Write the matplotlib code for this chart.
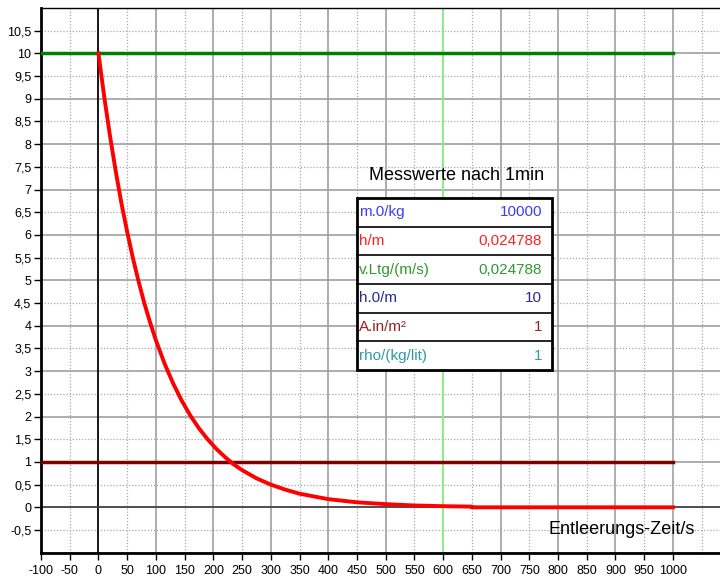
import numpy as np
import matplotlib.pyplot as plt
from matplotlib.ticker import FuncFormatter

plt.rcParams['font.family'] = ['Liberation Sans', 'DejaVu Sans']

# --- data ---
t_curve = [0, 10, 20, 30, 40, 50, 60, 70, 80, 90, 100, 115, 130, 145, 160, 175, 190,
           205, 220, 235, 250, 275, 300, 325, 350, 375, 400, 450, 500, 550, 600, 650,
           650, 1000]
h_curve = [10.0, 9.05, 8.19, 7.41, 6.70, 6.07, 5.49, 4.97, 4.49, 4.07, 3.68, 3.17,
           2.73, 2.35, 2.02, 1.74, 1.50, 1.29, 1.11, 0.95, 0.82, 0.64, 0.50, 0.39,
           0.30, 0.24, 0.18, 0.11, 0.07, 0.04, 0.025, 0.015, 0.0, 0.0]
h0_level = 10
h_mark = 1
t_mark = 600
line_end = 1000

table_title = "Messwerte nach 1min"
row_names = ["m.0/kg", "h/m", "v.Ltg/(m/s)", "h.0/m", "A.in/m²", "rho/(kg/lit)"]
row_values = ["10000", "0,024788", "0,024788", "10", "1", "1"]
row_colors = ["#3c3cff", "#ff2020", "#2e9a2e", "#2a2a90", "#9a2020", "#3399aa"]

x_min, x_max = -100, 1082
y_min, y_max = -1, 11

fig = plt.figure(figsize=(7.2, 5.79), dpi=100)
ax = fig.add_axes([41 / 720, 26.3 / 579, 679 / 720, 544.7 / 579])
ax.set_xlim(x_min, x_max)
ax.set_ylim(y_min, y_max)

# grid: solid on 100 / 1, dotted on 50 / 0.5
for x in np.arange(-100, 1101, 50):
    if x % 100 == 0:
        ax.axvline(x, color="#a0a0a0", lw=1.2, zorder=1)
    else:
        ax.axvline(x, color="#a8a8a8", lw=0.9, ls=(0, (1, 1.5)), zorder=1)
for y in np.arange(-1, 11.01, 0.5):
    if y == int(y):
        ax.axhline(y, color="#a0a0a0", lw=1.2, zorder=1)
    else:
        ax.axhline(y, color="#a8a8a8", lw=0.9, ls=(0, (1, 1.5)), zorder=1)

ax.axvline(0, color="black", lw=1.2, zorder=2)
ax.axhline(0, color="#404040", lw=1.2, zorder=2)
ax.axvline(t_mark, color="#80ff80", lw=1.2, zorder=2)

ax.plot([x_min, line_end], [h0_level, h0_level], color="#008000", lw=2.5, zorder=3)
ax.plot([x_min, line_end], [h_mark, h_mark], color="#800000", lw=2.5, zorder=3)
ax.plot(t_curve, h_curve, color="red", lw=2.8, zorder=4)

# axes styling
for s in ["left", "bottom"]:
    ax.spines[s].set_linewidth(2)
ax.spines["top"].set_linewidth(1)
ax.spines["right"].set_visible(False)

ax.set_xticks(np.arange(-100, 1001, 50))
ax.set_yticks(np.arange(-0.5, 10.51, 0.5))
fmt = FuncFormatter(lambda v, p: (f"{v:g}").replace(".", ","))
ax.xaxis.set_major_formatter(fmt)
ax.yaxis.set_major_formatter(fmt)
ax.tick_params(axis="both", labelsize=9, length=5, width=1, direction="out", pad=2)
ax.tick_params(axis="x", pad=4)

ax.text(695 / 720, 1 - 530 / 579, "Entleerungs-Zeit/s", transform=fig.transFigure,
        fontsize=13, ha="right", va="center", zorder=6)

# table of measured values
tx0, tx1 = 357, 552
ty0, ty1 = 198, 370
row_h = (ty1 - ty0) / len(row_names)


def fig_xy(px, py):
    return px / 720, 1 - py / 579


fig.text(*fig_xy((tx0 + tx1) / 2 + 2, 176), table_title, fontsize=13,
         ha="center", va="center")
x0, y0 = fig_xy(tx0, ty1)
x1, y1 = fig_xy(tx1, ty0)
fig.patches.append(plt.Rectangle((x0, y0), x1 - x0, y1 - y0, transform=fig.transFigure,
                                 facecolor="white", edgecolor="black", lw=2, zorder=5))
for i, (name, val, col) in enumerate(zip(row_names, row_values, row_colors)):
    yc = ty0 + row_h * (i + 0.5)
    fig.text(*fig_xy(tx0 + 2, yc), name, color=col, fontsize=11, ha="left", va="center",
             zorder=6)
    fig.text(*fig_xy(tx1 - 10, yc), val, color=col, fontsize=11, ha="right", va="center",
             zorder=6)
    if i > 0:
        yy = 1 - (ty0 + row_h * i) / 579
        fig.lines.append(plt.Line2D([x0, x1], [yy, yy], transform=fig.transFigure,
                                    color="black", lw=1.2, zorder=6))

fig.savefig("out.png", dpi=100)
